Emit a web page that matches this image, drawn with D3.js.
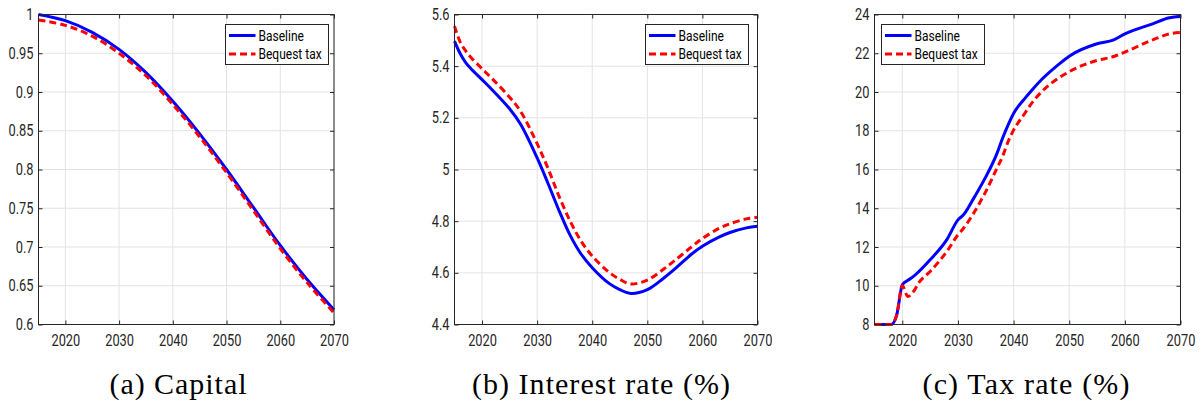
<!DOCTYPE html>
<html>
<head>
<meta charset="utf-8">
<script src="https://cdn.jsdelivr.net/npm/d3@7"></script>
<style>
  html, body { margin: 0; padding: 0; background: #fff; }
  svg { display: block; }
  .tick-label { font-family: Roboto, "Liberation Sans", sans-serif; font-size: 16px; fill: #262626; }
  .legend-label { font-family: Roboto, "Liberation Sans", sans-serif; font-size: 15px; fill: #000; }
  .caption { font-family: "Liberation Serif", "DejaVu Serif", serif; font-size: 30px; fill: #000; }
</style>
</head>
<body>
<svg id="chart" width="1204" height="403"></svg>
<script>
// ---- Data -------------------------------------------------------------
const seriesNames = ["Baseline", "Bequest tax"];
const xTicks = [2020, 2030, 2040, 2050, 2060, 2070];

// (a) Capital
const capitalYears = [2015, 2020, 2025, 2030, 2035, 2040, 2045, 2050, 2055, 2060, 2065, 2070];
const capitalBaseline = [1.000, 0.992, 0.977, 0.955, 0.925, 0.888, 0.846, 0.800, 0.751, 0.702, 0.658, 0.619];
const capitalBequest  = [0.993, 0.986, 0.972, 0.950, 0.921, 0.884, 0.842, 0.796, 0.747, 0.698, 0.654, 0.615];
const capitalTicks = [0.6, 0.65, 0.7, 0.75, 0.8, 0.85, 0.9, 0.95, 1];
const capitalTickLabels = ["0.6", "0.65", "0.7", "0.75", "0.8", "0.85", "0.9", "0.95", "1"];

// (b) Interest rate (%)
const rateYears = [2015, 2016, 2017, 2018, 2020, 2022, 2025, 2027, 2030, 2032, 2034, 2036, 2038, 2040, 2043, 2045, 2047, 2050, 2053, 2055, 2058, 2060, 2063, 2065, 2068, 2070];
const rateBaseline = [5.497, 5.450, 5.415, 5.390, 5.348, 5.305, 5.235, 5.175, 5.045, 4.945, 4.840, 4.745, 4.672, 4.620, 4.560, 4.535, 4.520, 4.535, 4.580, 4.615, 4.672, 4.703, 4.738, 4.756, 4.774, 4.780];
const rateBequest  = [5.555, 5.495, 5.460, 5.434, 5.390, 5.348, 5.280, 5.225, 5.100, 5.003, 4.895, 4.800, 4.722, 4.665, 4.603, 4.575, 4.557, 4.572, 4.615, 4.648, 4.700, 4.733, 4.772, 4.790, 4.809, 4.815];
const rateTicks = [4.4, 4.6, 4.8, 5, 5.2, 5.4, 5.6];
const rateTickLabels = ["4.4", "4.6", "4.8", "5", "5.2", "5.4", "5.6"];

// (c) Tax rate (%)
const taxYears = [2015, 2016, 2017, 2018, 2019, 2020, 2021, 2022, 2023, 2025, 2028, 2030, 2031, 2033, 2035, 2037, 2038, 2039, 2040, 2042, 2043, 2045, 2048, 2050, 2055, 2058, 2060, 2065, 2068, 2070];
const taxBaseline = [8, 8, 8, 8, 8.5, 10.05, 10.28, 10.48, 10.74, 11.34, 12.38, 13.4, 13.66, 14.6, 15.62, 16.82, 17.6, 18.29, 18.89, 19.66, 20.0, 20.63, 21.4, 21.85, 22.49, 22.69, 23.0, 23.52, 23.83, 23.9];
const taxBequest  = [8, 8, 8, 8, 8.5, 10.0, 9.45, 9.7, 10.17, 10.74, 11.77, 12.63, 12.97, 13.83, 14.86, 16.06, 16.66, 17.43, 18.03, 18.89, 19.32, 20.0, 20.7, 21.05, 21.63, 21.83, 22.06, 22.69, 23.0, 23.07];
const taxTicks = [8, 10, 12, 14, 16, 18, 20, 22, 24];
const taxTickLabels = ["8", "10", "12", "14", "16", "18", "20", "22", "24"];

const captions = ["(a) Capital", "(b) Interest rate (%)", "(c) Tax rate (%)"];

// ---- Layout -------------------------------------------------------------
const panels = [
  { left: 38.5, right: 334, years: capitalYears, base: capitalBaseline, beq: capitalBequest,
    yDomain: [0.6, 1], yTicks: capitalTicks, yLabels: capitalTickLabels, curve: d3.curveCatmullRom.alpha(0.5),
    legendX: 225.5, captionX: 178, captionW: 137, caption: captions[0] },
  { left: 454.5, right: 757.5, years: rateYears, base: rateBaseline, beq: rateBequest,
    yDomain: [4.4, 5.6], yTicks: rateTicks, yLabels: rateTickLabels, curve: d3.curveCatmullRom.alpha(0.5),
    legendX: 645.5, captionX: 601, captionW: 258, caption: captions[1] },
  { left: 874.5, right: 1180.5, years: taxYears, base: taxBaseline, beq: taxBequest,
    yDomain: [8, 24], yTicks: taxTicks, yLabels: taxTickLabels, curve: d3.curveMonotoneX,
    legendX: 881.5, captionX: 1026, captionW: 207, caption: captions[2] }
];
const plotTop = 14.5, plotBottom = 324.5;
const axisColor = "#262626", gridColor = "#e3e3e3";
const blue = "#0000ff", red = "#ff0000";
const narrow = 0.8;   // horizontal squeeze giving the condensed label face

const svg = d3.select("#chart");

function condense(sel) {
  sel.each(function () {
    const w = this.getComputedTextLength();
    if (w > 0) d3.select(this).attr("textLength", w * narrow).attr("lengthAdjust", "spacingAndGlyphs");
  });
}

panels.forEach(p => {
  const x = d3.scaleLinear().domain([2015, 2070]).range([p.left, p.right]);
  const y = d3.scaleLinear().domain(p.yDomain).range([plotBottom, plotTop]);
  const g = svg.append("g");

  // grid
  g.append("g").selectAll("line").data(xTicks).join("line")
    .attr("x1", d => x(d)).attr("x2", d => x(d)).attr("y1", plotTop).attr("y2", plotBottom)
    .attr("stroke", gridColor).attr("stroke-width", 1);
  g.append("g").selectAll("line").data(p.yTicks).join("line")
    .attr("x1", p.left).attr("x2", p.right).attr("y1", d => y(d)).attr("y2", d => y(d))
    .attr("stroke", gridColor).attr("stroke-width", 1);

  // axes with inward ticks on all sides
  const tl = 4;
  const xb = g.append("g").attr("transform", `translate(0,${plotBottom})`)
    .call(d3.axisBottom(x).tickValues(xTicks).tickSizeInner(-tl).tickSizeOuter(0).tickPadding(10).tickFormat(d3.format("d")));
  const xt = g.append("g").attr("transform", `translate(0,${plotTop})`)
    .call(d3.axisTop(x).tickValues(xTicks).tickSizeInner(-tl).tickSizeOuter(0).tickFormat(""));
  const yl = g.append("g").attr("transform", `translate(${p.left},0)`)
    .call(d3.axisLeft(y).tickValues(p.yTicks).tickSizeInner(-tl).tickSizeOuter(0).tickPadding(5)
      .tickFormat((d, i) => p.yLabels[i]));
  const yr = g.append("g").attr("transform", `translate(${p.right},0)`)
    .call(d3.axisRight(y).tickValues(p.yTicks).tickSizeInner(-tl).tickSizeOuter(0).tickFormat(""));
  [xb, xt, yl, yr].forEach(a => {
    a.attr("font-family", null).attr("font-size", null);
    a.select(".domain").remove();
    a.selectAll(".tick line").attr("stroke", axisColor).attr("stroke-width", 1);
    a.selectAll(".tick text").attr("class", "tick-label").attr("fill", null).call(condense);
  });

  // lines
  const line = d3.line().curve(p.curve);
  const basePts = p.years.map((yr, i) => [x(yr), y(p.base[i])]);
  const beqPts = p.years.map((yr, i) => [x(yr), y(p.beq[i])]);
  g.append("path").attr("d", line(basePts)).attr("fill", "none")
    .attr("stroke", blue).attr("stroke-width", 3).attr("stroke-linejoin", "round");
  g.append("path").attr("d", line(beqPts)).attr("fill", "none")
    .attr("stroke", red).attr("stroke-width", 3).attr("stroke-dasharray", "7,4");

  // frame
  g.append("rect").attr("x", p.left).attr("y", plotTop)
    .attr("width", p.right - p.left).attr("height", plotBottom - plotTop)
    .attr("fill", "none").attr("stroke", axisColor).attr("stroke-width", 1);

  // legend
  const lg = g.append("g").attr("transform", `translate(${p.legendX},${24.5})`);
  lg.append("rect").attr("width", 103).attr("height", 40)
    .attr("fill", "#fff").attr("stroke", axisColor).attr("stroke-width", 1);
  const rows = [{ name: seriesNames[0], color: blue, dash: null, yy: 11 },
                { name: seriesNames[1], color: red, dash: "7,4", yy: 29.5 }];
  rows.forEach(r => {
    lg.append("line").attr("x1", 3.5).attr("x2", 30).attr("y1", r.yy).attr("y2", r.yy)
      .attr("stroke", r.color).attr("stroke-width", 3).attr("stroke-dasharray", r.dash);
    lg.append("text").attr("class", "legend-label").attr("x", 33).attr("y", r.yy)
      .attr("dy", "0.36em").text(r.name).call(condense);
  });

  // caption
  g.append("text").attr("class", "caption").attr("x", p.captionX).attr("y", 394)
    .attr("text-anchor", "middle").attr("textLength", p.captionW).attr("lengthAdjust", "spacing")
    .text(p.caption);
});
</script>
</body>
</html>
